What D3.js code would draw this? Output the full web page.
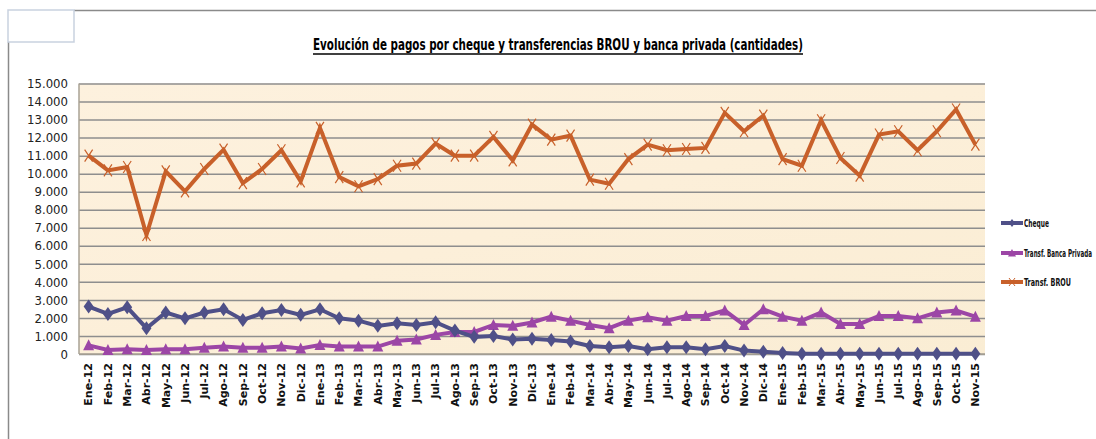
<!DOCTYPE html>
<html><head><meta charset="utf-8">
<script src="https://cdnjs.cloudflare.com/ajax/libs/d3/7.8.5/d3.min.js"></script>
<style>
html,body{margin:0;padding:0;background:#fff;}
svg{display:block;}
</style>
</head><body>
<svg id="c" width="1096" height="439"></svg>
<script>
const categories = ["Ene-12","Feb-12","Mar-12","Abr-12","May-12","Jun-12","Jul-12","Ago-12","Sep-12","Oct-12","Nov-12","Dic-12",
"Ene-13","Feb-13","Mar-13","Abr-13","May-13","Jun-13","Jul-13","Ago-13","Sep-13","Oct-13","Nov-13","Dic-13",
"Ene-14","Feb-14","Mar-14","Abr-14","May-14","Jun-14","Jul-14","Ago-14","Sep-14","Oct-14","Nov-14","Dic-14",
"Ene-15","Feb-15","Mar-15","Abr-15","May-15","Jun-15","Jul-15","Ago-15","Sep-15","Oct-15","Nov-15"];
const cheque = [2630,2220,2590,1430,2300,1980,2300,2480,1890,2260,2440,2170,
2480,1980,1850,1560,1700,1610,1760,1300,950,1000,800,850,
780,690,440,370,440,260,370,370,260,440,190,120,
60,20,20,20,20,20,20,20,20,20,20];
const bancaPrivada = [480,220,260,220,260,260,350,410,350,350,410,310,
500,410,410,410,740,810,1060,1220,1220,1610,1560,1750,
2070,1850,1610,1430,1850,2040,1850,2110,2110,2410,1610,2480,
2070,1850,2300,1670,1670,2110,2110,1980,2300,2410,2070];
const brou = [11000,10180,10370,6600,10130,9020,10260,11330,9480,10260,11300,9570,
12540,9810,9300,9700,10440,10560,11670,11000,11000,12040,10740,12720,
11890,12110,9670,9440,10810,11610,11300,11370,11430,13370,12350,13220,
10810,10440,12960,10870,9890,12170,12350,11300,12350,13560,11610];
const yTicks = [0,1000,2000,3000,4000,5000,6000,7000,8000,9000,10000,11000,12000,13000,14000,15000];
const seriesNames = ["Cheque","Transf. Banca Privada","Transf. BROU"];
const seriesColors = ["#4f5088","#9c46a6","#c8602a"];
const title = "Evolución de pagos por cheque y transferencias  BROU y banca privada (cantidades)";

const svg = d3.select("#c");
const L = 79, R = 985, T = 83.5, B = 354;
const narrow = "'DejaVu Sans Condensed','Liberation Sans Narrow','Arial Narrow',sans-serif";

// frame
svg.append("line").attr("x1",74).attr("x2",1096).attr("y1",10.5).attr("y2",10.5).attr("stroke","#8a8a8a").attr("stroke-width",1.5);
svg.append("line").attr("x1",8.5).attr("x2",8.5).attr("y1",42).attr("y2",439).attr("stroke","#8a8a8a").attr("stroke-width",1.5);
svg.append("rect").attr("x",8).attr("y",10).attr("width",66).attr("height",32).attr("fill","none").attr("stroke","#c9d2df").attr("stroke-width",1.5);

// title
svg.append("text").attr("x",558).attr("y",50).attr("text-anchor","middle")
  .attr("font-family",narrow)
  .attr("font-weight","bold").attr("font-size",15).attr("fill","#000")
  .attr("textLength",490).attr("lengthAdjust","spacingAndGlyphs").text(title);
svg.append("line").attr("x1",313).attr("x2",803).attr("y1",54).attr("y2",54).attr("stroke","#000").attr("stroke-width",1.3);

const x = d3.scaleBand().domain(categories).range([L,R]);
const y = d3.scaleLinear().domain([0,15000]).range([B,T]);
const cx = d => x(d) + x.bandwidth()/2;

// plot background
const defs = svg.append("defs");
const grad = defs.append("linearGradient").attr("id","bg").attr("x1",0).attr("y1",0).attr("x2",1).attr("y2",1);
grad.append("stop").attr("offset","0%").attr("stop-color","#fdf1de");
grad.append("stop").attr("offset","50%").attr("stop-color","#fcefd9");
grad.append("stop").attr("offset","100%").attr("stop-color","#faedd4");
svg.append("rect").attr("x",L).attr("y",T).attr("width",R-L).attr("height",B-T).attr("fill","url(#bg)");

// grid
const gy = svg.append("g").attr("transform",`translate(${L},0)`)
  .call(d3.axisLeft(y).tickValues(yTicks).tickSize(-(R-L)).tickFormat(d => d3.format(",")(d).replace(/,/g,".")));
gy.select(".domain").remove();
gy.selectAll(".tick line").attr("stroke","#8e8e8e").attr("stroke-width",1.5);
gy.selectAll(".tick text").attr("x",-11).attr("font-family",narrow)
  .attr("font-size",13).attr("fill","#222");
svg.append("line").attr("x1",L).attr("x2",L).attr("y1",T).attr("y2",B).attr("stroke","#a9a294").attr("stroke-width",1.5);
svg.append("line").attr("x1",L).attr("x2",R).attr("y1",B).attr("y2",B).attr("stroke","#a9a294").attr("stroke-width",1.5);

// x axis
const gx = svg.append("g").attr("transform",`translate(0,${B})`).call(d3.axisBottom(x).tickSize(0));
gx.select(".domain").remove();
gx.selectAll(".tick text").attr("transform","rotate(-90)").attr("text-anchor","end")
  .attr("x",-9).attr("y",0).attr("dy","0.35em")
  .attr("font-family","'DejaVu Sans',Verdana,sans-serif").attr("font-weight","bold").attr("font-size",11).attr("fill","#111");

const line = d3.line().x((d,i)=>cx(categories[i])).y(d=>y(d));
const data = [cheque, bancaPrivada, brou];

function marker(g, k, color){
  if(k===0){
    g.append("path").attr("d","M0,-7 L5,0 L0,7 L-5,0 Z").attr("fill",color);
  } else if(k===1){
    g.append("path").attr("d","M0,-6 L5.5,5 L-5.5,5 Z").attr("fill",color);
  } else {
    g.append("path").attr("d","M-4,-6 L4,6 M4,-6 L-4,6").attr("stroke",color).attr("stroke-width",1.2).attr("fill","none");
  }
}

[2,1,0].forEach(k=>{
  svg.append("path").datum(data[k]).attr("d",line).attr("fill","none")
    .attr("stroke",seriesColors[k]).attr("stroke-width",4).attr("stroke-linejoin","miter");
  data[k].forEach((v,i)=>{
    const g = svg.append("g").attr("transform",`translate(${cx(categories[i])},${y(v)})`);
    marker(g,k,seriesColors[k]);
  });
});

// legend
const legY = [223,253,282];
const legW = [25,68,47];
seriesNames.forEach((n,k)=>{
  svg.append("line").attr("x1",1001).attr("x2",1023).attr("y1",legY[k]).attr("y2",legY[k])
    .attr("stroke",seriesColors[k]).attr("stroke-width",4);
  const g = svg.append("g").attr("transform",`translate(1012,${legY[k]})`);
  if(k===0) g.append("path").attr("d","M0,-4 L3,0 L0,4 L-3,0 Z").attr("fill",seriesColors[k]);
  else if(k===1) g.append("path").attr("d","M0,-4 L4,3.5 L-4,3.5 Z").attr("fill",seriesColors[k]);
  else g.append("path").attr("d","M-3,-4 L3,4 M3,-4 L-3,4").attr("stroke",seriesColors[k]).attr("stroke-width",1);
  const tg = svg.append("g");
  const t = tg.append("text").attr("x",0).attr("y",0).attr("dy","0.35em")
    .attr("font-family",narrow)
    .attr("font-weight","bold").attr("font-size",10.5).attr("fill","#111").text(n);
  const w = t.node().getComputedTextLength() || legW[k];
  tg.attr("transform",`translate(1024,${legY[k]}) scale(${legW[k]/w},1)`);
});
</script>
</body></html>
